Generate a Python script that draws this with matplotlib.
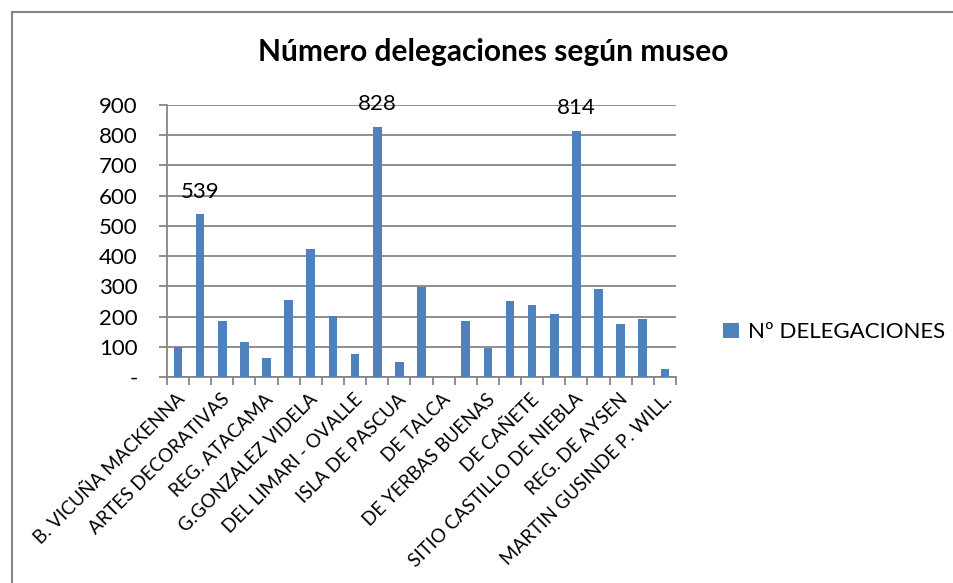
import matplotlib
matplotlib.use("Agg")
import matplotlib.pyplot as plt
from matplotlib.lines import Line2D
import numpy as np

# values, 23 museums (only every other name is printed)
values = [100, 539, 186, 117, 63, 254, 422, 201, 75, 828, 49, 299, 0,
          184, 97, 250, 237, 208, 814, 292, 176, 193, 25]
shown_labels = ["B. VICUÑA MACKENNA", "ARTES DECORATIVAS", "REG. ATACAMA",
                "G.GONZALEZ VIDELA", "DEL LIMARI - OVALLE", "ISLA DE PASCUA",
                "DE TALCA", "DE YERBAS BUENAS", "DE CAÑETE",
                "SITIO CASTILLO DE NIEBLA", "REG. DE AYSEN", "MARTIN GUSINDE P. WILL."]
labelled = [539, 828, 814]
yticks = [0, 100, 200, 300, 400, 500, 600, 700, 800, 900]
ytick_labels = ["-"] + [str(v) for v in yticks[1:]]

plt.rcParams['font.family'] = ['Lato', 'DejaVu Sans']

fig = plt.figure(figsize=(9.54, 5.83), dpi=100)
ax = fig.add_axes([0.175, 0.3533, 0.5336, 0.4666])

x = np.arange(len(values))
bars = ax.bar(x, values, width=0.39, color='#4F81BD', label='Nº DELEGACIONES', zorder=3)

for xi, v in zip(x, values):
    if v in labelled:
        ax.annotate(str(v), (xi, v), xytext=(0, 9), textcoords='offset points',
                    ha='center', va='bottom', fontsize=16)

ax.set_xlim(-0.5, len(values) - 0.5)
ax.set_ylim(0, 900)
ax.set_yticks(yticks)
ax.set_yticklabels(ytick_labels, fontsize=16)
ax.yaxis.grid(True, color='#868686', linewidth=1.3, zorder=0)

# category boundary ticks on the x axis
ax.set_xticks(np.arange(len(values) + 1) - 0.5, minor=False)
ax.set_xticklabels([])
ax.tick_params(axis='x', length=6, color='#868686', width=1.3)
ax.tick_params(axis='y', length=6, color='#868686', width=1.3, pad=15)

for i, name in enumerate(shown_labels):
    ax.annotate(name, (2 * i, 0), xytext=(3, -14), textcoords='offset points',
                ha='right', va='center', rotation=45, rotation_mode='anchor',
                fontsize=13.5)

for side in ['top', 'right']:
    ax.spines[side].set_visible(False)
for side in ['left', 'bottom']:
    ax.spines[side].set_color('#868686')
    ax.spines[side].set_linewidth(1.3)

fig.text(0.517, 0.91, "Número delegaciones según museo", ha='center', va='center',
         fontsize=21.5, fontweight='bold')

fig.legend(handles=[bars], loc='center left', bbox_to_anchor=(0.737, 0.43),
           frameon=False, fontsize=16, handlelength=0.7, handleheight=0.7,
           handletextpad=0.4)

# outer chart border (cropped at right and bottom)
fig.add_artist(Line2D([12 / 954, 1], [1 - 12 / 583, 1 - 12 / 583],
                      transform=fig.transFigure, color='#868686', linewidth=1.5))
fig.add_artist(Line2D([12 / 954, 12 / 954], [0, 1 - 12 / 583],
                      transform=fig.transFigure, color='#868686', linewidth=1.5))

fig.savefig("out.png", dpi=100)
